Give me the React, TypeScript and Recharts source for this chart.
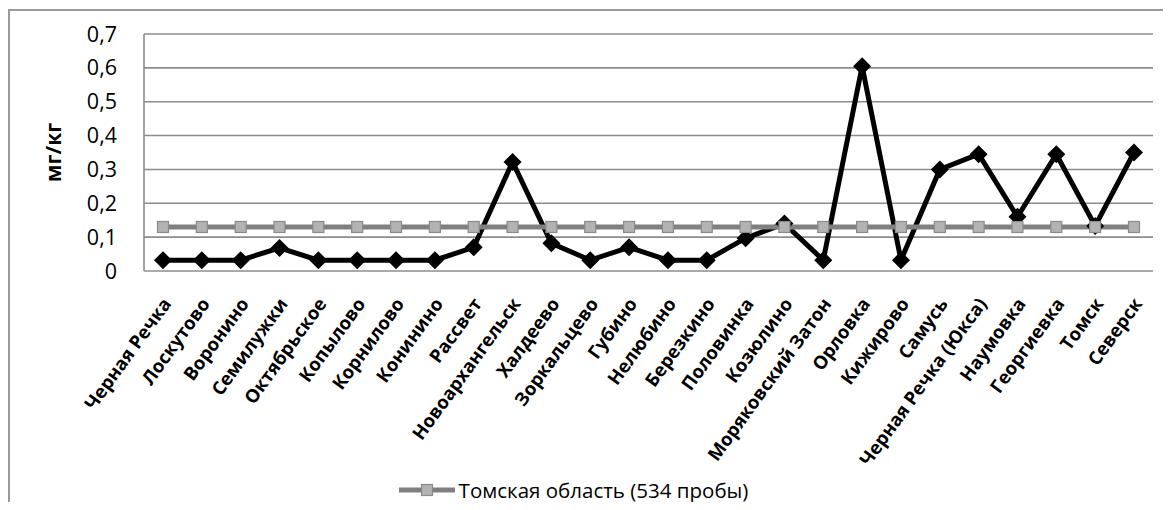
import React from "react";
import { LineChart, Line, XAxis, YAxis, CartesianGrid, Legend } from "recharts";

const categories = [
  "Черная Речка", "Лоскутово", "Воронино", "Семилужки", "Октябрьское",
  "Копылово", "Корнилово", "Конинино", "Рассвет", "Новоархангельск",
  "Халдеево", "Зоркальцево", "Губино", "Нелюбино", "Березкино",
  "Половинка", "Козюлино", "Моряковский Затон", "Орловка", "Кижирово",
  "Самусь", "Черная Речка (Юкса)", "Наумовка", "Георгиевка", "Томск", "Северск",
];

const sampleValues = [
  0.032, 0.032, 0.032, 0.068, 0.032, 0.032, 0.032, 0.032, 0.07, 0.322,
  0.082, 0.032, 0.07, 0.032, 0.032, 0.097, 0.14, 0.032, 0.605, 0.032,
  0.3, 0.345, 0.16, 0.345, 0.133, 0.35,
];

const regionValues = [
  0.13, 0.13, 0.13, 0.13, 0.13, 0.13, 0.13, 0.13, 0.13, 0.13,
  0.13, 0.13, 0.13, 0.13, 0.13, 0.13, 0.13, 0.13, 0.13, 0.13,
  0.13, 0.13, 0.13, 0.13, 0.13, 0.13,
];

const yTicks = [0, 0.1, 0.2, 0.3, 0.4, 0.5, 0.6, 0.7];

const legendLabel = "Томская область (534 пробы)";
const yLabel = "мг/кг";

const data = categories.map((name, i) => ({
  name,
  samples: sampleValues[i],
  region: regionValues[i],
}));

const FONT = "'Open Sans', sans-serif";
const GRID = "#8c8c8c";

const Diamond = (props: any) => {
  const { cx, cy } = props;
  if (cx == null || cy == null) return null;
  const r = 9;
  return (
    <polygon
      points={`${cx},${cy - r} ${cx + r},${cy} ${cx},${cy + r} ${cx - r},${cy}`}
      fill="#000"
    />
  );
};

const Square = (props: any) => {
  const { cx, cy } = props;
  if (cx == null || cy == null) return null;
  return (
    <rect x={cx - 5.5} y={cy - 5.5} width={11} height={11} fill="#b3b3b3" stroke="#8a8a8a" strokeWidth={1.2} />
  );
};

// category names, slanted like the source
const SlantTick = (props: any) => {
  const { x, y, payload } = props;
  return (
    <g transform={`translate(${x + 9},${y + 31})`}>
      <text
        transform="rotate(-54)"
        textAnchor="end"
        fontSize={18.5}
        fontWeight="bold"
        fontFamily={FONT}
        fill="#000"
      >
        {payload.value}
      </text>
    </g>
  );
};

const AxisTitle = (props: any) => {
  const { viewBox } = props;
  const cy = viewBox.y + viewBox.height / 2;
  return (
    <text
      x={45}
      y={cy}
      transform={`rotate(-90, 45, ${cy})`}
      textAnchor="middle"
      dominantBaseline="central"
      fontSize={21}
      fontWeight="bold"
      fontFamily={FONT}
      fill="#000"
    >
      {yLabel}
    </text>
  );
};

const LegendBox = () => (
  <div
    style={{
      display: "flex",
      justifyContent: "center",
      alignItems: "center",
      height: 24,
      paddingRight: 14,
      fontFamily: FONT,
      fontSize: 20.5,
      color: "#000",
    }}
  >
    <svg width={56} height={14} style={{ marginRight: 4 }}>
      <line x1={0} y1={7} x2={56} y2={7} stroke="#808080" strokeWidth={5} />
      <rect x={22.5} y={1.5} width={11} height={11} fill="#b3b3b3" stroke="#8a8a8a" strokeWidth={1.2} />
    </svg>
    <span>{legendLabel}</span>
  </div>
);

export default function App() {
  return (
    <div style={{ position: "relative", width: 1155, height: 494, fontFamily: FONT }}>
      <div
        style={{
          position: "absolute",
          left: 0,
          top: 1,
          right: 0,
          bottom: 0,
          borderTop: "2px solid #9a9a9a",
          borderLeft: "2px solid #9a9a9a",
        }}
      />
      <LineChart
        width={1155}
        height={494}
        data={data}
        margin={{ top: 26, right: 10, bottom: 0, left: 0 }}
      >
        <CartesianGrid vertical={false} stroke={GRID} strokeWidth={1.6} />
        <XAxis
          dataKey="name"
          interval={0}
          axisLine={false}
          tickLine={false}
          tickSize={0}
          height={207}
          padding={{ left: 19, right: 19 }}
          tick={<SlantTick />}
        />
        <YAxis
          width={136}
          domain={[0, 0.7]}
          ticks={yTicks}
          interval={0}
          tickLine={false}
          tickSize={0}
          tickMargin={27}
          axisLine={{ stroke: GRID, strokeWidth: 1.6 }}
          tick={{ fontSize: 21.5, fill: "#000", fontFamily: FONT }}
          tickFormatter={(v: number) => (v === 0 ? "0" : v.toFixed(1).replace(".", ","))}
          label={<AxisTitle />}
        />
        <Legend verticalAlign="bottom" height={24} content={<LegendBox />} />
        <Line
          dataKey="samples"
          stroke="#000"
          strokeWidth={5}
          dot={<Diamond />}
          activeDot={false}
          legendType="none"
          isAnimationActive={false}
        />
        <Line
          dataKey="region"
          stroke="#808080"
          strokeWidth={5}
          dot={<Square />}
          activeDot={false}
          isAnimationActive={false}
        />
      </LineChart>
    </div>
  );
}
